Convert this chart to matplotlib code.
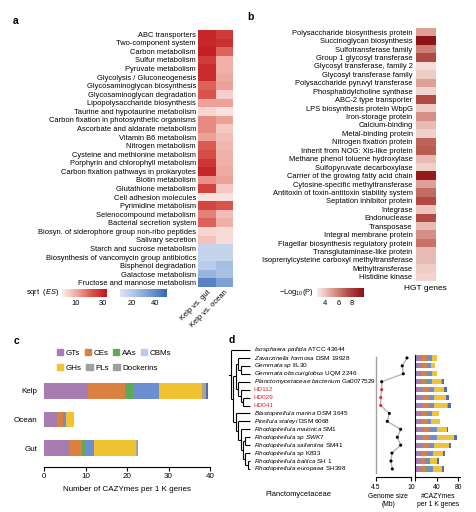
import numpy as np
import matplotlib
matplotlib.use('Agg')
import matplotlib.pyplot as plt
from matplotlib.colors import LinearSegmentedColormap, Normalize
from matplotlib.cm import ScalarMappable
from matplotlib.patches import Patch

plt.rcParams['font.family'] = ['Liberation Sans', 'DejaVu Sans']
plt.rcParams['mathtext.fontset'] = 'custom'
plt.rcParams['mathtext.rm'] = 'Liberation Sans'
plt.rcParams['mathtext.it'] = 'Liberation Sans:italic'
plt.rcParams['mathtext.bf'] = 'Liberation Sans:bold'

# ---- panel a: KEGG pathways, sqrt(ES); negative = enriched in gut / ocean (blue)
kegg_pathways = [
    'ABC transporters', 'Two-component system', 'Carbon metabolism', 'Sulfur metabolism',
    'Pyruvate metabolism', 'Glycolysis / Gluconeogenesis', 'Glycosaminoglycan biosynthesis',
    'Glycosaminoglycan degradation', 'Lipopolysaccharide biosynthesis',
    'Taurine and hypotaurine metabolism', 'Carbon fixation in photosynthetic organisms',
    'Ascorbate and aldarate metabolism', 'Vitamin B6 metabolism', 'Nitrogen metabolism',
    'Cysteine and methionine metabolism', 'Porphyrin and chlorophyll metabolism',
    'Carbon fixation pathways in prokaryotes', 'Biotin metabolism', 'Glutathione metabolism',
    'Cell adhesion molecules', 'Pyrimidine metabolism', 'Selenocompound metabolism',
    'Bacterial secretion system', 'Biosyn. of siderophore group non-ribo peptides',
    'Salivary secretion', 'Starch and sucrose metabolism',
    'Biosynthesis of vancomycin group antibiotics', 'Bisphenol degradation',
    'Galactose metabolism', 'Fructose and mannose metabolism']
es_kelp_vs_gut = [30, 30, 31, 26, 29, 29, 20, 22, 12, 4, 15, 15, 12, 21, 23, 27, 30, 14, 25,
                  2, 24, 16, 20, 4, 7, -16, -16, -19, -27, -42]
es_kelp_vs_ocean = [26, 28, 20, 10, 10, 11, 12, 5, 12, 2, 12, 6, 8, 9, 10, 10, 11, 12, 6,
                    2, 22, 8, 10, 3, 3, -16, -16, -24, -23, -33]
comparisons = ['Kelp vs. gut', 'Kelp vs. ocean']

# ---- panel b: HGT genes, -log10(P)
hgt_genes = [
    'Polysaccharide biosynthesis protein', 'Succinoglycan biosynthesis', 'Sulfotransferase family',
    'Group 1 glycosyl transferase', 'Glycosyl transferase, family 2', 'Glycosyl transferase family',
    'Polysaccharide pyruvyl transferase', 'Phosphatidylcholine synthase', 'ABC-2 type transporter',
    'LPS biosynthesis protein WbpG', 'Iron-storage protein', 'Calcium-binding',
    'Metal-binding protein', 'Nitrogen fixation protein', 'Inherit from NOG: Xis-like protein',
    'Methane phenol toluene hydroxylase', 'Sulfopyruvate decarboxylase',
    'Carrier of the growing fatty acid chain', 'Cytosine-specific methyltransferase',
    'Antitoxin of toxin-antitoxin stability system', 'Septation inhibitor protein', 'Integrase',
    'Endonuclease', 'Transposase', 'Integral membrane protein',
    'Flagellar biosynthesis regulatory protein', 'Transglutaminase-like protein',
    'Isoprenylcysteine carboxyl methyltransferase', 'Methyltransferase', 'Histidine kinase']
hgt_logp = [5.0, 9.5, 6.0, 7.5, 3.3, 3.8, 5.0, 3.6, 7.5, 3.8, 5.5, 4.3, 3.7, 6.8, 7.0, 4.3,
            3.7, 9.3, 5.0, 6.5, 7.5, 4.0, 7.5, 4.3, 5.5, 6.3, 4.3, 4.3, 3.8, 3.6]

# ---- panel c: CAZymes per 1K genes
habitats = ['Kelp', 'Ocean', 'Gut']
caz_classes = ['GTs', 'CEs', 'AAs', 'CBMs', 'GHs', 'PLs', 'Dockerins']
caz_kelp = [10.6, 8.8, 2.3, 5.9, 10.5, 0.9, 0.4]
caz_ocean = [3.1, 1.4, 0.3, 0.5, 2.0, 0.0, 0.0]
caz_gut = [6.0, 3.2, 1.0, 1.8, 10.1, 0.5, 0.0]
bar_colors = ['#A97CB1', '#DB8140', '#5EAA58', '#6C8FD0', '#F1C232', '#ABA396', '#4C6DAF']
legend_colors = ['#A97CB1', '#DB8140', '#5EAA58', '#B9CAEA', '#F1C232', '#A0A0A0', '#A0A0A0']

# ---- panel d: Planctomycetaceae genomes
leaf_italic = ['Isosphaera pallida', 'Zavarzinella formosa', 'Gemmata sp', 'Gemmata obscuriglobus',
               'Planctomycetaceae bacterium', '', '', '', 'Blastopirellula marina',
               'Pirellula staleyi', 'Rhodopirellula maiorica', 'Rhodopirellula sp SWK7',
               'Rhodopirellula sallentina', 'Rhodopirellula sp', 'Rhodopirellula baltica',
               'Rhodopirellula europaea']
leaf_strain = ['ATCC 43644', 'DSM 19928', 'IIL30', 'UQM 2246', 'Ga0077529', 'HD112', 'HD029',
               'HD041', 'DSM 3645', 'DSM 6068', 'SM1', '', 'SM41', 'K833', 'SH 1', 'SH398']
kelp_isolates = ['HD112', 'HD029', 'HD041']
tree = (0, (((1, (2, 3)), (4, (5, (6, 7)))), (8, (9, (10, ((11, 12), (13, (14, 15))))))))
genome_size_mb = [9.37, 8.63, 8.79, 5.39, 5.39, 5.24, 5.24, 6.60, 6.28, 8.38, 7.85, 8.38,
                  7.00, 6.86, 7.07]
# per genome (rows 1..15): GTs, CEs, AAs, CBMs, GHs, PLs, Dockerins
caz_genomes = [
    [12.3, 10.0, 1.0, 7.4, 9.2, 0, 0],
    [12.3, 9.5, 0.8, 6.0, 8.0, 0, 0],
    [12.3, 10.0, 1.0, 7.4, 9.2, 0, 0],
    [12.3, 8.5, 0.8, 9.2, 16.6, 1.5, 4.3],
    [15.4, 10.0, 1.1, 8.6, 18.4, 0.5, 5.6],
    [15.4, 10.0, 1.1, 8.6, 22.1, 0.5, 5.0],
    [15.4, 10.0, 1.1, 9.2, 22.7, 2.5, 4.9],
    [12.3, 10.0, 1.1, 7.4, 13.5, 0, 0],
    [12.3, 9.5, 1.0, 7.0, 16.0, 0, 0],
    [16.6, 10.0, 1.1, 12.3, 18.4, 0, 1.8],
    [15.4, 11.0, 1.3, 12.3, 32.0, 0, 6.1],
    [15.4, 10.0, 1.1, 9.2, 27.0, 0, 3.1],
    [12.3, 9.5, 1.0, 11.1, 18.5, 0, 3.1],
    [11.1, 7.8, 0.8, 8.0, 13.5, 0, 3.1],
    [12.3, 8.4, 0.8, 12.3, 16.6, 0, 2.5]]

W, H = 476, 512
FS = 5.4
FSD = 4.6
fig = plt.figure(figsize=(W / 100, H / 100), dpi=100)


def px_axes(x0, y0, x1, y1):
    return fig.add_axes([x0 / W, 1 - y1 / H, (x1 - x0) / W, (y1 - y0) / H])


def ftext(x, y, s, **kw):
    return fig.text(x / W, 1 - y / H, s, **kw)


red_cmap = LinearSegmentedColormap.from_list('r', ['#FCEEEB', '#EFA9A0', '#D8534C', '#C0141C'])
blue_cmap = LinearSegmentedColormap.from_list('b', ['#DCE5F4', '#A9C0E4', '#6F95CF', '#3465B0'])
hgt_cmap = LinearSegmentedColormap.from_list('h', ['#FAEDEA', '#DC9A91', '#B24C44', '#8A0F12'])
red_norm = Normalize(0, 33)
blue_norm = Normalize(10, 50)
hgt_norm = Normalize(2.9, 9.7)

# ================= panel a
ax = px_axes(198, 30, 233, 287)
es = np.column_stack([es_kelp_vs_gut, es_kelp_vs_ocean]).astype(float)
ax.pcolormesh(np.ma.masked_less(es, 0), cmap=red_cmap, norm=red_norm)
ax.pcolormesh(np.ma.masked_less_equal(-es, 0), cmap=blue_cmap, norm=blue_norm)
ax.set_ylim(len(kegg_pathways), 0)
ax.set_yticks(np.arange(len(kegg_pathways)) + 0.5)
ax.set_yticklabels(kegg_pathways, fontsize=FS)
ax.set_xticks([0.5, 1.5])
ax.set_xticklabels(comparisons, fontsize=FS, rotation=45, ha='right', va='top',
                   rotation_mode='anchor')
ax.tick_params(length=0, pad=1.5)
for s in ax.spines.values():
    s.set_visible(False)

cax = px_axes(62, 289, 107, 297)
cb = fig.colorbar(ScalarMappable(red_norm, red_cmap), cax=cax, orientation='horizontal',
                  ticks=[10, 30])
cb.outline.set_visible(False)
cax.tick_params(length=0, labelsize=FS, pad=2)
cax = px_axes(120, 289, 167, 297)
cb = fig.colorbar(ScalarMappable(blue_norm, blue_cmap), cax=cax, orientation='horizontal',
                  ticks=[20, 40])
cb.outline.set_visible(False)
cax.tick_params(length=0, labelsize=FS, pad=2)
ftext(59, 293, r'sqrt  ($\it{ES}$)', fontsize=FS, ha='right', va='center')

# ================= panel b
ax = px_axes(416, 28, 436, 281)
ax.pcolormesh(np.array(hgt_logp)[:, None], cmap=hgt_cmap, norm=hgt_norm)
ax.set_ylim(len(hgt_genes), 0)
ax.set_yticks(np.arange(len(hgt_genes)) + 0.5)
ax.set_yticklabels(hgt_genes, fontsize=FS)
ax.set_xticks([])
ax.tick_params(length=0, pad=2.5)
for s in ax.spines.values():
    s.set_visible(False)
ftext(425, 289, 'HGT genes', fontsize=FS + 0.6, ha='center', va='center')

cax = px_axes(317, 288, 364, 297)
cb = fig.colorbar(ScalarMappable(hgt_norm, hgt_cmap), cax=cax, orientation='horizontal',
                  ticks=[4, 6, 8])
cb.outline.set_visible(False)
cax.tick_params(length=0, labelsize=FS, pad=2)
ftext(314, 293, r'$-$Log$_{10}$(P)', fontsize=FS, ha='right', va='center')

# ================= panel c
ax = px_axes(44, 377, 210, 462)
caz_table = np.array([caz_kelp, caz_ocean, caz_gut])
left = np.zeros(len(habitats))
for j, cls in enumerate(caz_classes):
    ax.barh(np.arange(len(habitats)), caz_table[:, j], left=left, height=0.56,
            color=bar_colors[j], linewidth=0)
    left += caz_table[:, j]
ax.set_ylim(len(habitats) - 0.51, -0.49)
ax.set_xlim(0, 40)
ax.set_yticks(np.arange(len(habitats)))
ax.set_yticklabels(habitats, fontsize=FS + 0.4)
ax.tick_params(axis='y', length=0, pad=5)
ax.set_xticks([0, 10, 20, 30, 40])
ax.tick_params(axis='x', labelsize=FS + 0.4, length=3, width=0.8, pad=1.5)
for s in ['left', 'top', 'right']:
    ax.spines[s].set_visible(False)
ax.spines['bottom'].set_position(('outward', 3.6))
ax.spines['bottom'].set_linewidth(0.8)
ax.set_xlabel('Number of CAZYmes per 1 K genes', fontsize=FS + 0.4, labelpad=4)

handles = [Patch(color=c, label=l) for c, l in zip(legend_colors, caz_classes)]
leg_kw = dict(frameon=False, fontsize=FS + 0.4, handlelength=0.8, handleheight=0.8,
              handletextpad=0.3, columnspacing=0.55, borderpad=0, borderaxespad=0,
              loc='center left')
fig.legend(handles=handles[:4], ncol=4, bbox_to_anchor=(57 / W, 1 - 353 / H), **leg_kw)
fig.legend(handles=handles[4:], ncol=3, bbox_to_anchor=(57 / W, 1 - 368 / H), **leg_kw)

# ================= panel d
row_top, row_bot = 346, 477
ylims = ((row_bot - 350) / 7.93, (row_top - 350) / 7.93)

tax = px_axes(228, row_top, 252, row_bot)
tax.set_xlim(0, 24)
tax.set_ylim(*ylims)
tax.axis('off')
root_x, step, tip_x = 3.0, 2.4, 22.0


def draw_clade(node, depth):
    if isinstance(node, int):
        return float(node), tip_x
    kids = [draw_clade(c, depth + 1) for c in node]
    x = root_x + depth * step
    ys = [k[0] for k in kids]
    tax.plot([x, x], [min(ys), max(ys)], color='black', lw=0.8, solid_capstyle='butt')
    for ky, kx in kids:
        tax.plot([x, kx], [ky, ky], color='black', lw=0.8, solid_capstyle='butt')
    return (min(ys) + max(ys)) / 2, x


ry, rx = draw_clade(tree, 0)
tax.plot([rx - 2, rx], [ry, ry], color='black', lw=0.8)
for i, (it, st) in enumerate(zip(leaf_italic, leaf_strain)):
    lab = (r'$\it{' + it.replace(' ', r'\ ') + '}$ ' if it else '') + st
    tax.text(tip_x + 3.5, i, lab, fontsize=FSD, va='center', ha='left', clip_on=False,
             color='#E0262E' if st in kelp_isolates else 'black')

rows = np.arange(1, len(genome_size_mb) + 1)
gax = px_axes(376, row_top, 411, row_bot)
gax.set_ylim(*ylims)
gax.set_xlim(4.5, 10)
gax.plot(genome_size_mb, rows, color='#B5B5B5', lw=1.0, zorder=1)
pt_colors = ['#E0262E' if leaf_strain[r] in kelp_isolates else 'black' for r in rows]
gax.scatter(genome_size_mb, rows, s=5, c=pt_colors, zorder=2, linewidths=0)
gax.set_xticks([4.5, 10])
gax.set_xticklabels(['4.5', '10'])
gax.set_yticks([])
for s in ['top', 'right']:
    gax.spines[s].set_visible(False)
gax.spines['left'].set_color('#A0A0A0')
gax.spines['left'].set_linewidth(1.0)
gax.spines['left'].set_bounds(0.9, 15.5)
gax.spines['bottom'].set_linewidth(0.8)
gax.tick_params(axis='x', labelsize=FSD + 0.3, length=3, width=0.8, pad=2)
gax.patch.set_alpha(0)

bax = px_axes(415, row_top, 460, row_bot)
bax.set_ylim(*ylims)
bax.set_xlim(0, 83)
caz_g = np.array(caz_genomes)
left = np.zeros(len(rows))
for j in range(len(caz_classes)):
    bax.barh(rows, caz_g[:, j], left=left, height=0.65, color=bar_colors[j], linewidth=0)
    left += caz_g[:, j]
bax.set_xticks([0, 40, 80])
bax.set_xticklabels(['', '40', '80'])
bax.set_yticks([])
for s in ['top', 'right']:
    bax.spines[s].set_visible(False)
bax.spines['left'].set_bounds(0.6, ylims[0])
bax.spines['left'].set_linewidth(0.8)
bax.spines['bottom'].set_linewidth(0.8)
bax.tick_params(axis='x', labelsize=FSD + 0.3, length=3, width=0.8, pad=2)
bax.patch.set_alpha(0)

ftext(388, 496, 'Genome size', fontsize=FSD + 0.3, ha='center', va='center')
ftext(388, 504, '(Mb)', fontsize=FSD + 0.3, ha='center', va='center')
ftext(438, 496, '#CAZYmes', fontsize=FSD + 0.3, ha='center', va='center')
ftext(438, 504, 'per 1 K genes', fontsize=FSD + 0.3, ha='center', va='center')
ftext(298, 495, 'Planctomycetaceae', fontsize=FS, ha='center', va='center')

# panel letters
for lt, x, y in [('a', 16, 21), ('b', 250, 17), ('c', 17, 341), ('d', 232, 340)]:
    ftext(x, y, lt, fontsize=7.5, fontweight='bold', ha='center', va='center')

fig.savefig('out.png', dpi=100)
